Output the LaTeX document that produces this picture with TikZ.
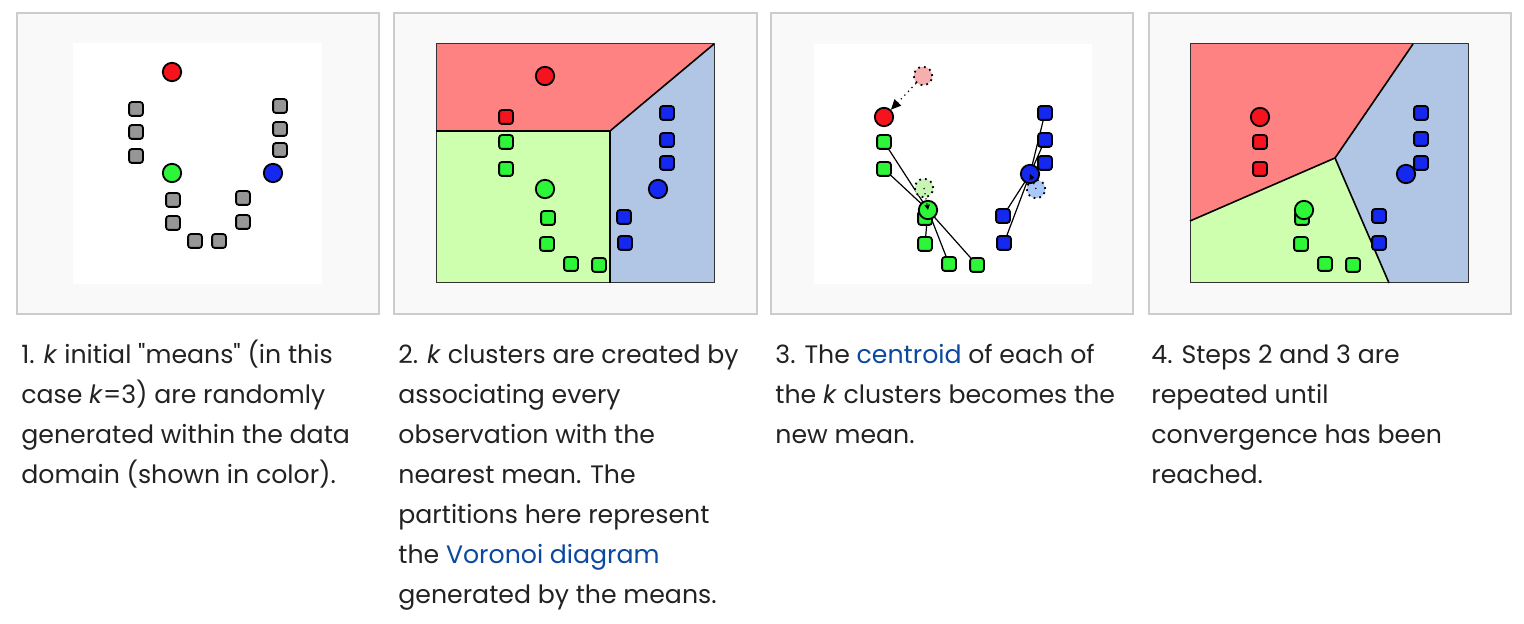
\documentclass[tikz,border=0pt]{standalone}
\usepackage{fontspec}
\setmainfont{Poppins}
\usetikzlibrary{arrows.meta}
\definecolor{framefill}{RGB}{249,249,249}
\definecolor{framedraw}{RGB}{204,204,204}
\definecolor{txt}{RGB}{34,34,34}
\definecolor{lnk}{RGB}{11,72,160}
\definecolor{mred}{RGB}{245,20,30}
\definecolor{mgreen}{RGB}{45,245,55}
\definecolor{mblue}{RGB}{20,40,240}
\definecolor{mgrey}{RGB}{150,150,150}
\definecolor{vred}{RGB}{255,130,130}
\definecolor{vgreen}{RGB}{206,255,174}
\definecolor{vblue}{RGB}{176,198,228}
\definecolor{fred}{RGB}{245,175,175}
\definecolor{fgreen}{RGB}{200,245,180}
\definecolor{fblue}{RGB}{170,200,250}
\pgfdeclarelayer{back}
\pgfdeclarelayer{mid}
\pgfdeclarelayer{front}
\pgfsetlayers{back,mid,main,front}
\tikzset{
  panelframe/.style={fill=framefill, draw=framedraw, line width=1pt},
  sqpt/.style={draw=black, line width=0.9pt, rounded corners=1.3pt, minimum size=6.9pt, inner sep=0pt},
  meanpt/.style={circle, draw=black, line width=0.9pt, minimum size=9.2pt, inner sep=0pt},
  ghostpt/.style={circle, draw=black, dotted, line width=0.9pt, minimum size=9.2pt, inner sep=0pt},
  boundline/.style={draw=black, line width=0.8pt},
  spoke/.style={draw=black, line width=0.6pt},
  moveline/.style={draw=black, dotted, line width=0.6pt},
  captext/.style={anchor=north west, inner sep=0pt, align=left, text=txt, font=\fontsize{12.6}{20}\selectfont}
}
\begin{document}
\begin{tikzpicture}[x=0.5pt,y=-0.5pt]
\useasboundingbox (0,0) rectangle (1524,624);
\begin{pgfonlayer}{back}
\fill[white] (0,0) rectangle (1524,624);
% frames
\draw[panelframe] (17,13) rectangle (379,314);
\draw[panelframe] (394,13) rectangle (757,314);
\draw[panelframe] (771,13) rectangle (1133,314);
\draw[panelframe] (1149,13) rectangle (1511,314);
\fill[white] (73,43) rectangle (322,284);
\fill[white] (814,44) rectangle (1092,284);
% panel 2 regions
\fill[vred] (436,44) -- (714,44) -- (610,131) -- (436,131) -- cycle;
\fill[vgreen] (436,131) -- (610,131) -- (610,283) -- (436,283) -- cycle;
\fill[vblue] (610,131) -- (714,44) -- (714,283) -- (610,283) -- cycle;
\draw[draw=black!80, line width=0.5pt] (436,44) rectangle (714,283);
\draw[boundline] (436,131) -- (610,131) -- (714,44);
\draw[boundline] (610,131) -- (610,283);
% panel 4 regions
\fill[vred] (1190,44) -- (1413,44) -- (1335,158) -- (1190,221) -- cycle;
\fill[vblue] (1413,44) -- (1468,44) -- (1468,283) -- (1389,283) -- (1335,158) -- cycle;
\fill[vgreen] (1190,221) -- (1335,158) -- (1389,283) -- (1190,283) -- cycle;
\draw[draw=black!80, line width=0.5pt] (1190,44) rectangle (1468,283);
\draw[boundline] (1190,221) -- (1335,158) -- (1413,44);
\draw[boundline] (1335,158) -- (1389,283);
\end{pgfonlayer}

% ---------- panel 1 ----------
\node[sqpt, fill=mgrey] (a1) at (136,109) {};
\node[sqpt, fill=mgrey] (a2) at (136,132) {};
\node[sqpt, fill=mgrey] (a3) at (136,156) {};
\node[sqpt, fill=mgrey] (a4) at (173,200) {};
\node[sqpt, fill=mgrey] (a5) at (173,223) {};
\node[sqpt, fill=mgrey] (a6) at (195,241) {};
\node[sqpt, fill=mgrey] (a7) at (219,241) {};
\node[sqpt, fill=mgrey] (a8) at (243,198) {};
\node[sqpt, fill=mgrey] (a9) at (243,222) {};
\node[sqpt, fill=mgrey] (a10) at (280,106) {};
\node[sqpt, fill=mgrey] (a11) at (280,129) {};
\node[sqpt, fill=mgrey] (a12) at (280,150) {};
\node[meanpt, fill=mred] (ar) at (172,72) {};
\node[meanpt, fill=mgreen] (ag) at (172,173) {};
\node[meanpt, fill=mblue] (ab) at (273,173) {};

% ---------- panel 2 ----------
\node[sqpt, fill=mred] (b1) at (506,117) {};
\node[sqpt, fill=mgreen] (b2) at (506,142) {};
\node[sqpt, fill=mgreen] (b3) at (506,169) {};
\node[sqpt, fill=mgreen] (b4) at (548,218) {};
\node[sqpt, fill=mgreen] (b5) at (547,244) {};
\node[sqpt, fill=mgreen] (b6) at (571,264) {};
\node[sqpt, fill=mgreen] (b7) at (599,265) {};
\node[sqpt, fill=mblue] (b8) at (624,217) {};
\node[sqpt, fill=mblue] (b9) at (625,243) {};
\node[sqpt, fill=mblue] (b10) at (667,113) {};
\node[sqpt, fill=mblue] (b11) at (667,140) {};
\node[sqpt, fill=mblue] (b12) at (667,163) {};
\node[meanpt, fill=mred] (br) at (545,76) {};
\node[meanpt, fill=mgreen] (bg) at (545,189) {};
\node[meanpt, fill=mblue] (bb) at (658,189) {};

% ---------- panel 3 ----------
\node[ghostpt, fill=fred] (cfr) at (923,76) {};
\node[ghostpt, fill=fgreen] (cfg) at (924,188) {};
\node[ghostpt, fill=fblue] (cfb) at (1036,189) {};
\node[sqpt, fill=mgreen] (c2) at (884,142) {};
\node[sqpt, fill=mgreen] (c3) at (884,169) {};
\node[sqpt, fill=mgreen] (c4) at (925,218) {};
\node[sqpt, fill=mgreen] (c5) at (925,244) {};
\node[sqpt, fill=mgreen] (c6) at (949,264) {};
\node[sqpt, fill=mgreen] (c7) at (977,265) {};
\node[sqpt, fill=mblue] (c8) at (1003,216) {};
\node[sqpt, fill=mblue] (c9) at (1004,243) {};
\node[sqpt, fill=mblue] (c10) at (1045,113) {};
\node[sqpt, fill=mblue] (c11) at (1045,140) {};
\node[sqpt, fill=mblue] (c12) at (1045,163) {};
\node[meanpt, fill=mred] (cr) at (884,117) {};
\node[meanpt, fill=mgreen] (cg) at (928,210) {};
\node[meanpt, fill=mblue] (cb) at (1030,174) {};
\begin{pgfonlayer}{mid}
\draw[spoke] (c2.center) -- (cg.center);
\draw[spoke] (c3.center) -- (cg.center);
\draw[spoke] (c5.center) -- (cg.center);
\draw[spoke] (c6.center) -- (cg.center);
\draw[spoke] (c7.center) -- (cg.center);
\draw[spoke] (c8.center) -- (cb.center);
\draw[spoke] (c9.center) -- (cb.center);
\draw[spoke] (c10.center) -- (cb.center);
\draw[spoke] (c11.center) -- (cb.center);
\draw[spoke] (c12.center) -- (cb.center);
\end{pgfonlayer}
\begin{pgfonlayer}{front}
\draw[moveline, -{Triangle[length=5pt,width=4.5pt]}] (cfr) -- (cr);
\draw[moveline, -{Triangle[length=2.6pt,width=2.6pt]}] (cfg.center) -- (cg.center);
\draw[moveline, -{Triangle[length=2.6pt,width=2.6pt]}] (cfb.center) -- (cb.center);
\end{pgfonlayer}

% ---------- panel 4 ----------
\node[sqpt, fill=mred] (d2) at (1260,142) {};
\node[sqpt, fill=mred] (d3) at (1260,169) {};
\node[sqpt, fill=mgreen] (d4) at (1302,218) {};
\node[sqpt, fill=mgreen] (d5) at (1301,244) {};
\node[sqpt, fill=mgreen] (d6) at (1325,264) {};
\node[sqpt, fill=mgreen] (d7) at (1353,265) {};
\node[sqpt, fill=mblue] (d8) at (1379,216) {};
\node[sqpt, fill=mblue] (d9) at (1379,243) {};
\node[sqpt, fill=mblue] (d10) at (1421,113) {};
\node[sqpt, fill=mblue] (d11) at (1421,139) {};
\node[sqpt, fill=mblue] (d12) at (1421,163) {};
\node[meanpt, fill=mred] (dr) at (1260,117) {};
\node[meanpt, fill=mgreen] (dg) at (1304,210) {};
\node[meanpt, fill=mblue] (db) at (1406,174) {};

% ---------- captions ----------
\node[captext] (t1) at (21,335) {\strut 1. \textit{k} initial \textquotedbl means\textquotedbl{} (in this\\
\strut case \textit{k}=3) are randomly\\
\strut generated within the data\\
\strut domain (shown in color).};
\node[captext] (t2) at (398,335) {\strut 2. \textit{k} clusters are created by\\
\strut associating every\\
\strut observation with the\\
\strut nearest mean. The\\
\strut partitions here represent\\
\strut the \textcolor{lnk}{Voronoi diagram}\\
\strut generated by the means.};
\node[captext] (t3) at (775,335) {\strut 3. The \textcolor{lnk}{centroid} of each of\\
\strut the \textit{k} clusters becomes the\\
\strut new mean.};
\node[captext] (t4) at (1151,335) {\strut 4. Steps 2 and 3 are\\
\strut repeated until\\
\strut convergence has been\\
\strut reached.};
\end{tikzpicture}
\end{document}
